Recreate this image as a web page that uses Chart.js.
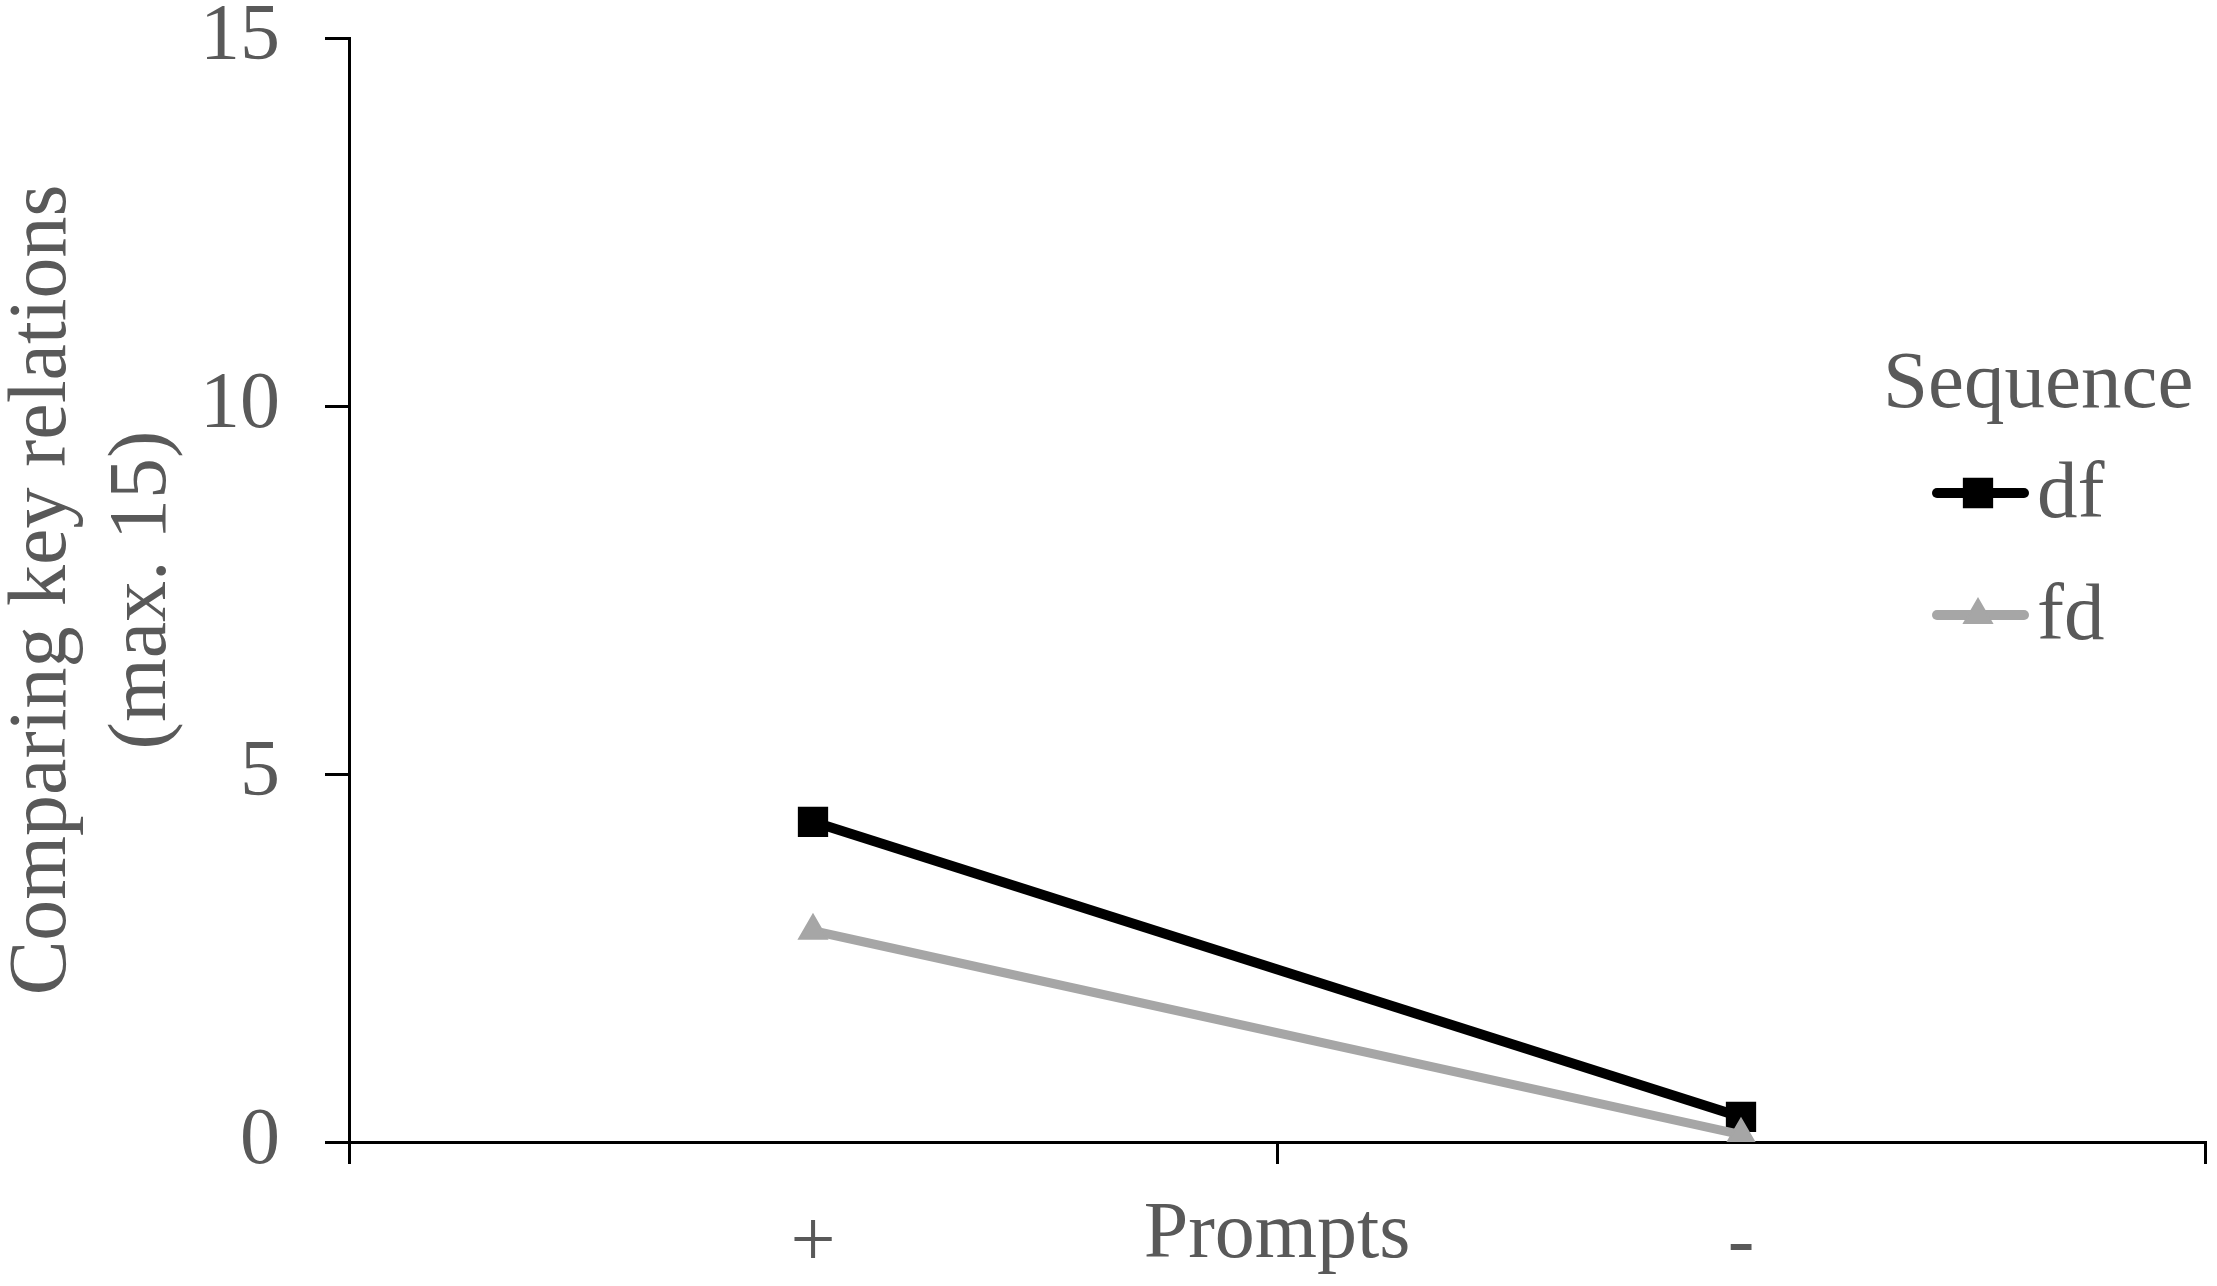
<!DOCTYPE html>
<html>
<head>
<meta charset="utf-8">
<script src="https://cdn.jsdelivr.net/npm/chart.js@4.4.1/dist/chart.umd.min.js"></script>
<style>
html, body { margin: 0; padding: 0; background: #fff; }
#wrap { width: 2217px; height: 1286px; position: relative; }
</style>
</head>
<body>
<div id="wrap"><canvas id="chart"></canvas></div>
<script>
// data
const categories = ['+', '-'];
const dfValues = [4.35, 0.34];
const fdValues = [2.87, 0.1];
const yMin = 0, yMax = 15, yStep = 5;
const xTitle = 'Prompts';
const yTitle = ['Comparing key relations', '(max. 15)'];
const legendTitle = 'Sequence';

const serif = '"Liberation Serif", "Times New Roman", serif';
const textGray = '#595959';

// legend drawn by hand, it sits inside the plot area in the original
const seqLegend = {
  id: 'seqLegend',
  afterDraw(chart) {
    let ctx = chart.ctx;
    ctx.save();
    ctx.font = '81px ' + serif;
    ctx.fillStyle = textGray;
    ctx.textAlign = 'left';
    ctx.textBaseline = 'alphabetic';
    ctx.fillText(legendTitle, 1883, 407);
    chart.data.datasets.forEach((ds, i) => {
      let y = 493 + i * 122;
      ctx.strokeStyle = ds.borderColor;
      ctx.lineWidth = 10;
      ctx.lineCap = 'round';
      ctx.beginPath();
      ctx.moveTo(1937, y);
      ctx.lineTo(2024, y);
      ctx.stroke();
      ctx.fillStyle = ds.pointBackgroundColor;
      ctx.strokeStyle = ds.pointBorderColor;
      ctx.lineWidth = ds.pointBorderWidth;
      Chart.helpers.drawPoint(ctx, {pointStyle: ds.pointStyle, radius: ds.pointRadius, borderWidth: ds.pointBorderWidth, rotation: 0}, 1978, y);
      ctx.fillStyle = textGray;
      ctx.fillText(ds.label, 2037, y + 24);
    });
    ctx.restore();
  }
};

const data = {
  labels: categories,
  datasets: [{
    label: 'df',
    data: dfValues,
    borderColor: '#000000',
    backgroundColor: '#000000',
    pointBackgroundColor: '#000000',
    pointBorderColor: '#000000',
    borderWidth: 10,
    pointStyle: 'rect',
    pointRadius: 20,
    pointBorderWidth: 2,
    order: 1
  }, {
    label: 'fd',
    data: fdValues,
    borderColor: '#a6a6a6',
    backgroundColor: '#a6a6a6',
    pointBackgroundColor: '#a6a6a6',
    pointBorderColor: '#a6a6a6',
    borderWidth: 9,
    pointStyle: 'triangle',
    pointRadius: 16,
    pointBorderWidth: 2,
    order: 0
  }]
};

const config = {
  type: 'line',
  data: data,
  options: {
    responsive: true,
    maintainAspectRatio: false,
    animation: false,
    layout: { autoPadding: false, padding: { top: 0, right: 12, left: 0, bottom: 0 } },
    plugins: {
      legend: { display: false },
      tooltip: { enabled: false }
    },
    scales: {
      x: {
        offset: true,
        grid: { offset: true, drawOnChartArea: false, color: '#000', lineWidth: 3, tickLength: 22 },
        border: { color: '#000', width: 3 },
        ticks: { color: textGray, padding: 41, font: { family: serif, size: 80, lineHeight: 1 } },
        title: { display: true, text: xTitle, color: textGray, font: { family: serif, size: 80, lineHeight: 1 }, padding: { top: 0, bottom: 10 } },
        afterFit(scale) {
          scale.height = 144;
          scale.paddingLeft = 0;
          scale.paddingRight = 0;
        }
      },
      y: {
        min: yMin,
        max: yMax,
        grid: { drawOnChartArea: false, color: '#000', lineWidth: 3, tickLength: 24 },
        border: { color: '#000', width: 3 },
        ticks: { stepSize: yStep, color: textGray, padding: 45, font: { family: serif, size: 80, lineHeight: 0.9 } },
        title: { display: true, text: yTitle, color: textGray, font: { family: serif, size: 82, lineHeight: 1.22 }, padding: { top: -7, bottom: 0 } },
        afterFit(scale) {
          scale.width = 349;
          scale.paddingTop = 38;
          scale.paddingBottom = 0;
        }
      }
    }
  },
  plugins: [seqLegend]
};

let c = document.getElementById('chart').getContext('2d');
new Chart(c, config);
</script>
</body>
</html>
